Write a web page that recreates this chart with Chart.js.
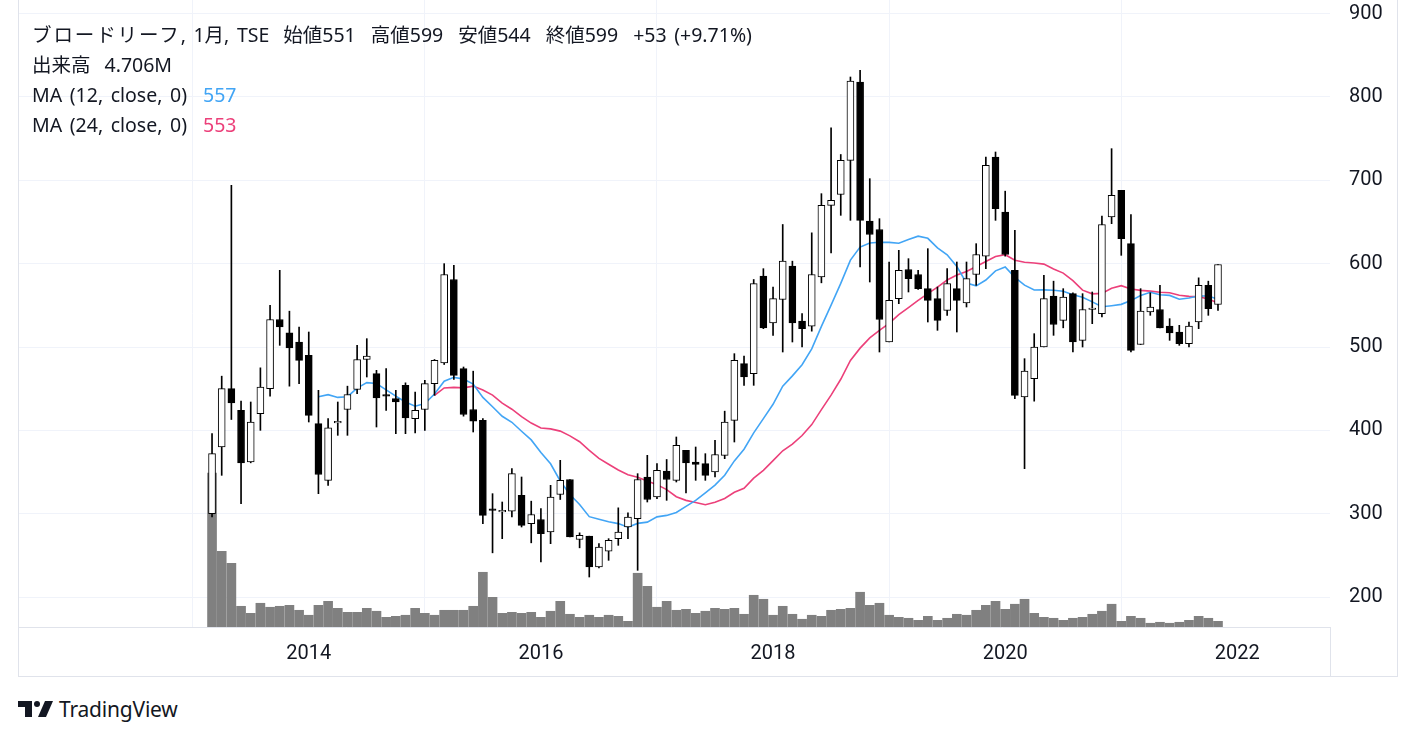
<!DOCTYPE html>
<html><head><meta charset="utf-8">
<script src="https://cdn.jsdelivr.net/npm/chart.js@4.4.0/dist/chart.umd.min.js"></script>
<style>
html,body{margin:0;padding:0;background:#fff;width:1418px;height:738px;overflow:hidden;}
#wrap{position:absolute;left:18px;top:0;width:1380px;height:676px;}
.ln{position:absolute;background:#e0e3eb;}
#legend{position:absolute;left:32px;top:20px;font-family:"Noto Sans","Noto Sans CJK JP",sans-serif;font-size:19.5px;line-height:30px;color:#131722;white-space:pre;word-spacing:2.5px;}
#legend .kana{letter-spacing:1.9px;}
#legend .g{margin-left:15px;}
#legend .h{margin-left:14px;}
#legend .m{margin-left:16px;}
#logo{position:absolute;left:18px;top:697px;height:24px;display:flex;align-items:center;}
#logo span{font-family:"Noto Sans","Open Sans",sans-serif;font-size:21px;color:#131722;margin-left:5px;letter-spacing:-0.2px;}
</style></head>
<body>
<div id="wrap"><canvas id="c"></canvas></div>
<div class="ln" style="left:18px;top:0;width:1px;height:677px"></div>
<div class="ln" style="left:1397px;top:0;width:1px;height:677px"></div>
<div class="ln" style="left:18px;top:676px;width:1380px;height:1px"></div>
<div class="ln" style="left:1330px;top:627px;width:1px;height:49px"></div>
<div id="legend"></div>
<div id="logo"><svg width="36" height="18" viewBox="0 0 36 18"><rect x="0" y="1" width="14" height="6" fill="#131722"/><rect x="7" y="1" width="7" height="16" fill="#131722"/><circle cx="19" cy="4" r="3" fill="#131722"/><polygon points="27,1 35,1 28,17 20,17" fill="#131722"/></svg><span>TradingView</span></div>
<script>
const months = [
'2013-03','2013-04','2013-05','2013-06','2013-07','2013-08','2013-09','2013-10','2013-11','2013-12',
'2014-01','2014-02','2014-03','2014-04','2014-05','2014-06','2014-07','2014-08','2014-09','2014-10','2014-11','2014-12',
'2015-01','2015-02','2015-03','2015-04','2015-05','2015-06','2015-07','2015-08','2015-09','2015-10','2015-11','2015-12',
'2016-01','2016-02','2016-03','2016-04','2016-05','2016-06','2016-07','2016-08','2016-09','2016-10','2016-11','2016-12',
'2017-01','2017-02','2017-03','2017-04','2017-05','2017-06','2017-07','2017-08','2017-09','2017-10','2017-11','2017-12',
'2018-01','2018-02','2018-03','2018-04','2018-05','2018-06','2018-07','2018-08','2018-09','2018-10','2018-11','2018-12',
'2019-01','2019-02','2019-03','2019-04','2019-05','2019-06','2019-07','2019-08','2019-09','2019-10','2019-11','2019-12',
'2020-01','2020-02','2020-03','2020-04','2020-05','2020-06','2020-07','2020-08','2020-09','2020-10','2020-11','2020-12',
'2021-01','2021-02','2021-03','2021-04','2021-05','2021-06','2021-07','2021-08','2021-09','2021-10','2021-11'];

const open = [300,380,450,424,362,420,450,533,517,506,
490,408,340,409,425,449,485,468,442,438,454,414,
425,456,481,581,474,425,412,305,302,303,322,288,
293,278,323,341,269,273,236,255,270,284,294,344,
320,351,340,376,362,360,350,370,412,480,468,585,
529,557,597,531,525,584,670,683,724,818,651,641,
506,558,593,587,570,558,544,570,553,587,609,728,
662,592,440,462,500,561,532,564,508,545,540,656,
688,624,503,542,545,525,518,504,530,574,551];
const high = [396,465,694,435,434,475,550,592,543,524,
518,448,414,434,453,502,510,472,474,448,457,446,
460,485,600,598,476,471,414,324,314,354,344,315,
306,334,364,341,277,273,264,270,307,301,348,370,
360,365,392,376,380,372,388,423,492,489,581,594,
572,647,603,540,637,684,763,731,824,832,702,654,
602,616,606,592,618,572,594,602,602,624,728,734,
687,640,486,516,586,579,570,565,564,566,657,738,
688,659,570,565,574,534,526,530,583,579,599];
const low = [296,346,413,312,361,400,441,502,453,456,
410,324,334,394,394,444,464,404,424,396,396,397,
400,442,479,461,417,398,288,253,270,296,284,265,
242,264,317,272,259,224,235,244,262,270,232,314,
318,316,338,325,340,340,344,366,386,454,454,522,
514,494,506,500,519,577,613,658,652,596,578,494,
506,552,566,569,530,520,538,518,548,574,594,652,
609,438,354,435,500,514,523,494,500,528,536,648,
610,494,503,538,523,508,502,500,522,538,544];
const close = [372,450,433,361,410,452,533,524,499,484,
418,347,403,410,443,485,489,439,441,434,415,424,
456,484,587,466,419,411,298,304,304,348,286,299,
276,320,340,272,274,236,260,268,278,296,341,317,
352,341,382,361,359,346,371,410,484,464,576,523,
558,603,529,522,587,670,676,724,819,652,635,533,
556,592,582,570,556,532,576,556,582,611,718,666,
611,442,471,500,558,527,560,506,545,546,647,682,
630,496,543,548,523,517,504,525,574,546,599];
// volume in millions of shares
const volume = [127.2,62.5,52.6,17.1,11.3,19.6,16.3,17.1,17.9,13.8,
9.7,17.9,21.2,15.4,12.1,12.1,15.4,13.0,8.0,8.8,9.7,15.4,
11.3,9.7,13.8,13.8,13.8,17.1,45.2,24.5,11.3,12.1,11.3,12.1,
8.0,13.0,21.2,10.5,8.0,9.7,8.0,9.7,8.8,4.7,44.4,33.6,
16.3,21.2,13.8,14.6,11.3,13.0,15.4,14.6,15.4,10.5,26.2,22.9,
9.7,17.1,10.5,6.4,9.7,8.8,13.8,14.6,15.4,28.7,17.9,19.6,
9.7,8.0,7.2,5.5,8.8,5.5,7.2,10.5,9.7,13.8,17.9,21.2,
14.6,18.8,22.9,11.3,8.0,7.2,5.5,7.2,8.0,10.5,13.0,18.8,
4.7,8.8,7.2,3.1,3.9,3.1,3.9,5.5,8.8,7.2,4.706];

const priceTicks = [200,300,400,500,600,700,800,900];
const yearTicks = [2014,2016,2018,2020,2022];
const maPeriods = [12,24];
const maColors = ['#42a5f5','#ec407a'];

const [y0,m0] = months[0].split('-').map(Number);
const monthIndex = (y,m) => (y-y0)*12 + (m-m0);
const idx = months.map((_,i)=>i);
const isUp = idx.map(i=>close[i]>=open[i]);
function sma(n){
  return idx.filter(i=>i>=n-1).map(i=>({x:i,y:close.slice(i-n+1,i+1).reduce((a,b)=>a+b,0)/n}));
}
const maSeries = maPeriods.map(sma);

// legend text
const L = close.length-1;
const chg = close[L]-close[L-1];
const pct = chg/close[L-1]*100;
const sg = chg>=0?'+':'';
const maLast = maSeries.map(s=>Math.round(s[s.length-1].y));
document.getElementById('legend').innerHTML =
 '<span class="kana">ブロードリーフ</span>, 1月, TSE<span class="h">始値'+open[L]+'</span><span class="g">高値'+high[L]+'</span><span class="g">安値'+low[L]+'</span><span class="g">終値'+close[L]+'</span><span class="g">'+sg+chg+' ('+sg+pct.toFixed(2)+'%)</span><br>'+
 '出来高<span class="h">'+volume[L].toFixed(3)+'M</span><br>'+
 'MA ('+maPeriods[0]+', close, 0)<span class="m" style="color:'+maColors[0]+'">'+maLast[0]+'</span><br>'+
 'MA ('+maPeriods[1]+', close, 0)<span class="m" style="color:'+maColors[1]+'">'+maLast[1]+'</span>';

const axisFont = {family:'Roboto, "Noto Sans", sans-serif', size:20};

new Chart(document.getElementById('c'), {
  type:'bar',
  data:{datasets:[
    {type:'bar', label:'vol', yAxisID:'yv', data: idx.map(i=>({x:i,y:volume[i]})),
     backgroundColor:'#808080', barThickness:9, grouped:false, order:5},
    {type:'line', label:'MA12', yAxisID:'y', data: maSeries[0], borderColor:maColors[0], borderWidth:1.6, pointRadius:0, order:4},
    {type:'line', label:'MA24', yAxisID:'y', data: maSeries[1], borderColor:maColors[1], borderWidth:1.6, pointRadius:0, order:4},
    {type:'bar', label:'wick', yAxisID:'y', data: idx.map(i=>({x:i,y:[low[i],high[i]]})),
     backgroundColor:'#000', barThickness:1, grouped:false, order:3},
    {type:'bar', label:'body', yAxisID:'y', data: idx.map(i=>({x:i,y:[open[i],close[i]]})),
     backgroundColor: idx.map(i=>isUp[i]?'#ffffff':'#000000'), borderColor:'#000', borderWidth:1,
     borderSkipped:false, barThickness:7, minBarLength:1.5, grouped:false, order:2}
  ]},
  options:{
    responsive:true, maintainAspectRatio:false, animation:false,
    layout:{padding:0},
    plugins:{legend:{display:false}, tooltip:{enabled:false}},
    scales:{
      x:{type:'linear', min:-20.06, max:115.58, offset:false,
         grid:{color:'#f0f3fa', drawTicks:false}, border:{display:true,color:'#e0e3eb'},
         afterBuildTicks:s=>{s.ticks = yearTicks.map(y=>({value:monthIndex(y,1)}));},
         ticks:{font:axisFont, color:'#131722', padding:15, maxRotation:0, autoSkip:false,
                callback:v=>{const y=yearTicks.find(t=>monthIndex(t,1)===v); return y?String(y):'';}},
         afterFit:s=>{s.height=49; s.paddingLeft=0; s.paddingRight=0;}},
      y:{position:'right', min:164, max:916.4,
         grid:{color:'#f0f3fa', drawTicks:false}, border:{display:false},
         afterBuildTicks:s=>{s.ticks = priceTicks.map(v=>({value:v}));},
         ticks:{font:axisFont, color:'#131722', padding:19},
         afterFit:s=>{s.width=68; s.paddingTop=0; s.paddingBottom=0;}},
      yv:{display:false, min:0, max:517.9}
    }
  }
});
</script>
</body></html>
